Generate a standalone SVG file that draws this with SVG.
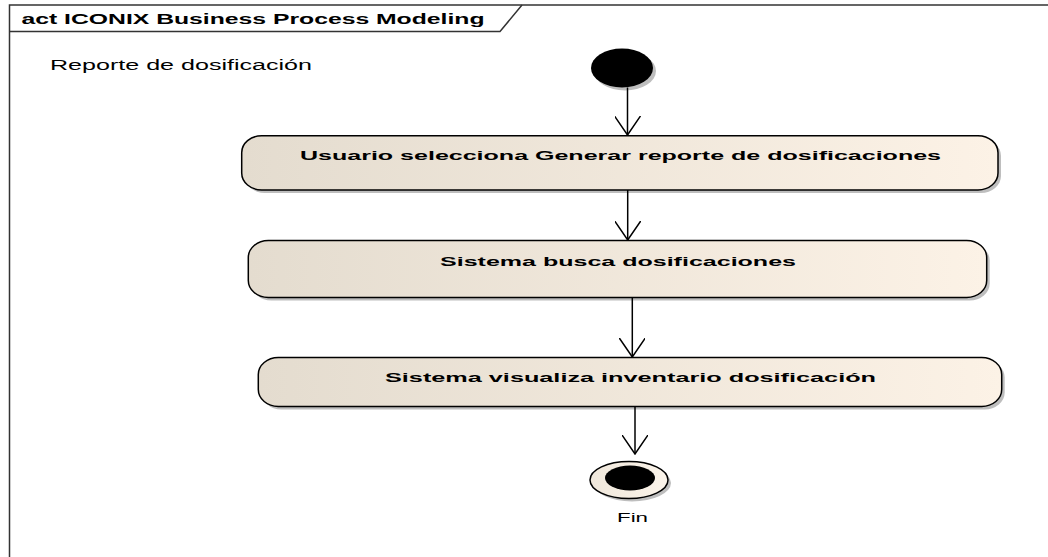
<svg xmlns="http://www.w3.org/2000/svg" width="1048" height="557" viewBox="0 0 1048 557">
<defs>
<style>
.frame{fill:none;stroke:#333;stroke-width:1.5}
.act{stroke:#000;stroke-width:1.5;fill:url(#g)}
.sh{fill:#BEBEBE}
.lbl{font-family:"Liberation Sans",Arial,sans-serif;font-weight:bold;font-size:12px;fill:#000}
.txt{font-family:"Liberation Sans",Arial,sans-serif;font-size:13px;fill:#000}
.edge{stroke:#000;stroke-width:1.5;fill:none}
</style>
<linearGradient id="g" x1="0" y1="0" x2="1" y2="0">
<stop offset="0" stop-color="#E4DCCF"/>
<stop offset="1" stop-color="#FCF2E6"/>
</linearGradient>
<linearGradient id="g2" x1="0" y1="0" x2="1" y2="0">
<stop offset="0" stop-color="#EFE7DB"/>
<stop offset="1" stop-color="#FBF4EA"/>
</linearGradient>
<marker id="arr" viewBox="0 0 20 26" refX="19" refY="13" markerWidth="20" markerHeight="26" markerUnits="userSpaceOnUse" orient="auto">
<path d="M0,0 L19,13 L0,26" fill="none" stroke="#000" stroke-width="1.5"/>
</marker>
</defs>
<rect width="1048" height="557" fill="#fff"/>
<g id="frame">
<path class="frame" d="M9.5,557 L9.5,5 L1048,5"/>
<path class="frame" d="M9.5,31.5 L500,31.5 L522,5"/>
<text x="21.5" y="24" class="lbl" style="font-size:14px" textLength="463" lengthAdjust="spacingAndGlyphs">act ICONIX Business Process Modeling</text>
<text x="50" y="69.5" class="txt" style="font-size:14px" textLength="262" lengthAdjust="spacingAndGlyphs">Reporte de dosificación</text>
</g>
<g id="start">
<ellipse cx="625" cy="71" rx="31" ry="19.5" class="sh"/>
<ellipse cx="622" cy="68" rx="31" ry="19.5" fill="#000"/>
</g>
<g id="a1">
<rect x="244.7" y="138.7" width="756.3" height="54.3" rx="20" ry="17" class="sh"/>
<rect x="241.7" y="135.7" width="756.3" height="54.3" rx="20" ry="17" class="act"/>
<text x="300" y="160" class="lbl" textLength="641" lengthAdjust="spacingAndGlyphs">Usuario selecciona Generar reporte de dosificaciones</text>
</g>
<g id="a2">
<rect x="251.3" y="243.5" width="738.4" height="57" rx="20" ry="17" class="sh"/>
<rect x="248.3" y="240.5" width="738.4" height="57" rx="20" ry="17" class="act"/>
<text x="440" y="266" class="lbl" textLength="356" lengthAdjust="spacingAndGlyphs">Sistema busca dosificaciones</text>
</g>
<g id="a3">
<rect x="261.3" y="360.5" width="743.4" height="49" rx="20" ry="17" class="sh"/>
<rect x="258.3" y="357.5" width="743.4" height="49" rx="20" ry="17" class="act"/>
<text x="385" y="381.7" class="lbl" textLength="491" lengthAdjust="spacingAndGlyphs">Sistema visualiza inventario dosificación</text>
</g>
<g id="end">
<ellipse cx="632" cy="483" rx="39" ry="18.5" class="sh"/>
<ellipse cx="629" cy="480" rx="39" ry="18.5" stroke="#000" stroke-width="1.5" fill="url(#g2)"/>
<ellipse cx="630" cy="478" rx="25" ry="12.5" fill="#000"/>
<text x="617" y="521.7" class="txt" textLength="31" lengthAdjust="spacingAndGlyphs">Fin</text>
</g>
<g id="connectors">
<path class="edge" d="M627.5,87.5 L627.5,135" marker-end="url(#arr)"/>
<path class="edge" d="M627.7,190 L627.7,240" marker-end="url(#arr)"/>
<path class="edge" d="M632.3,297.5 L632.3,357" marker-end="url(#arr)"/>
<path class="edge" d="M635,406.5 L635,454" marker-end="url(#arr)"/>
</g>
</svg>
